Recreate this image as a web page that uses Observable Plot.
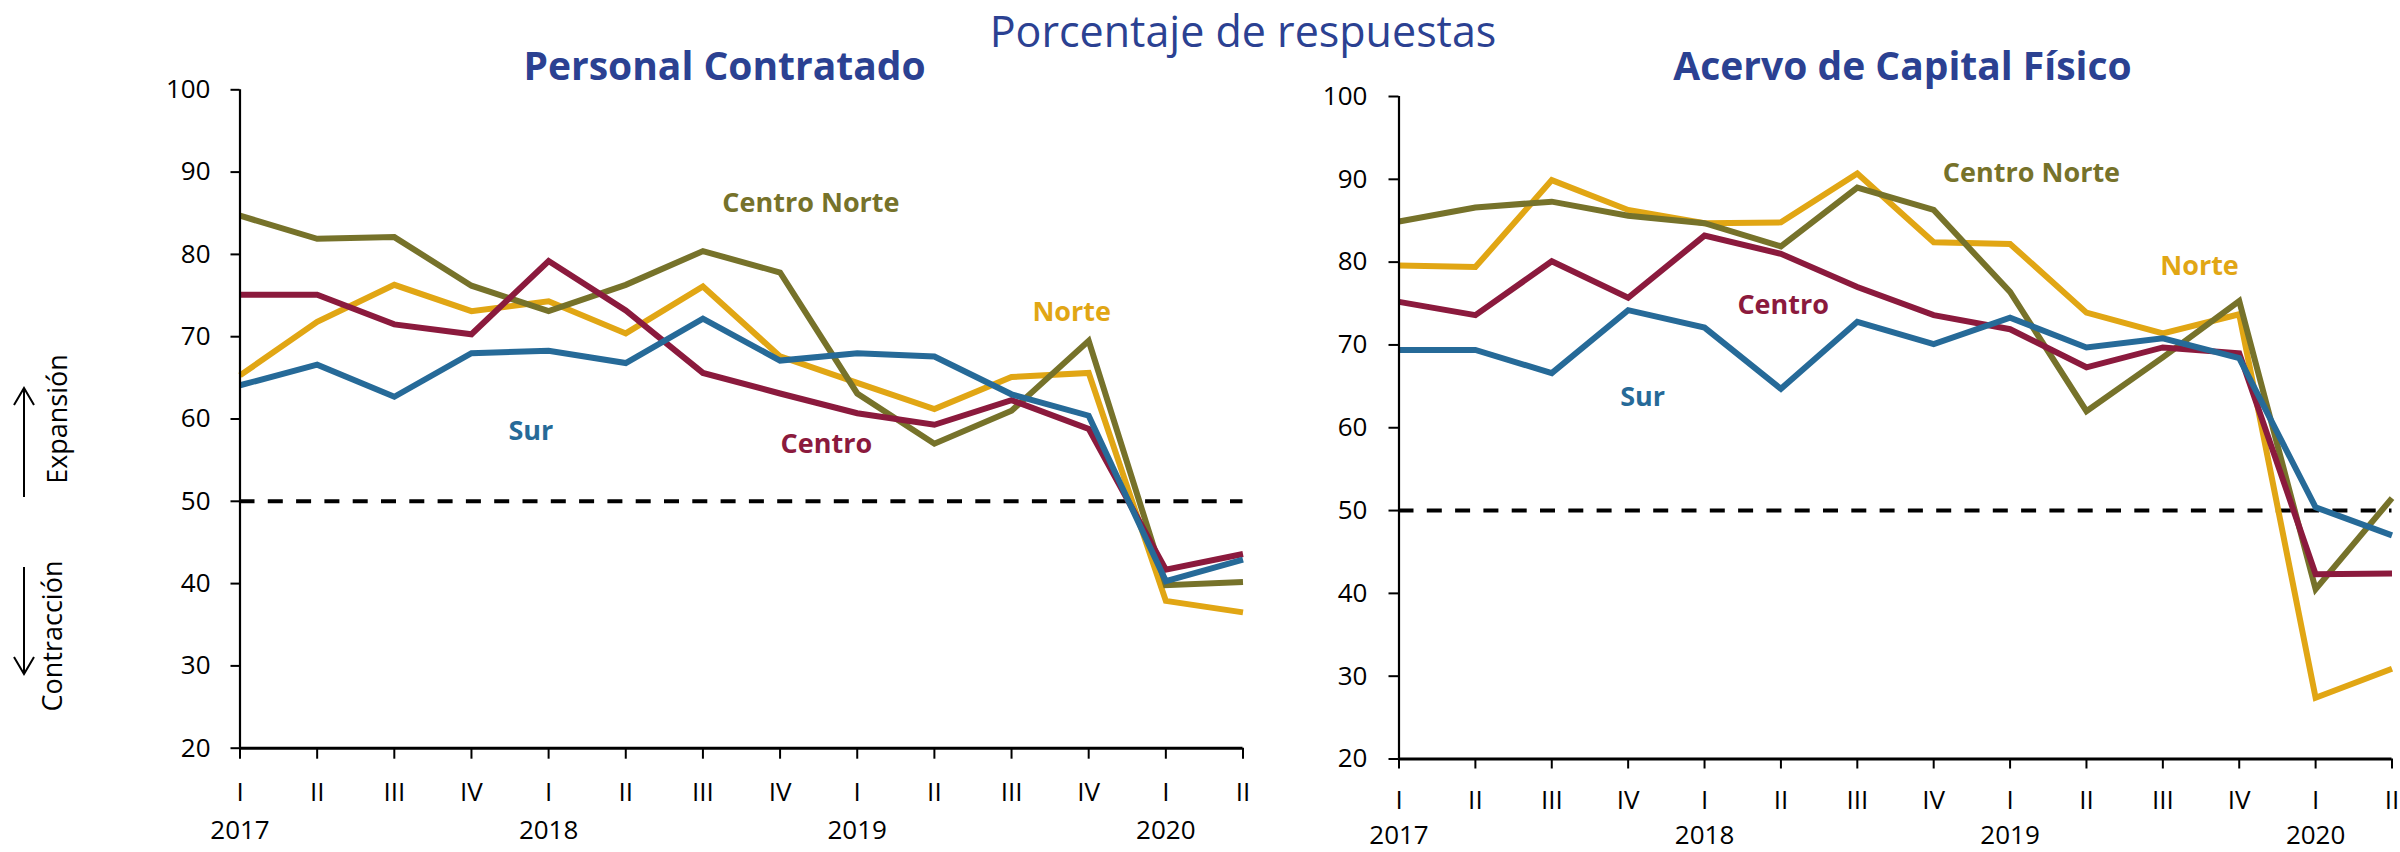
<!DOCTYPE html>
<html>
<head>
<meta charset="utf-8">
<script src="https://cdn.jsdelivr.net/npm/d3@7"></script>
<script src="https://cdn.jsdelivr.net/npm/@observablehq/plot@0.6"></script>
<style>
html, body { margin: 0; padding: 0; background: #fff; }
#root { position: relative; width: 2400px; height: 852px; overflow: hidden; font-family: "Open Sans", sans-serif; }
#root svg { position: absolute; top: 0; }
</style>
</head>
<body>
<div id="root"></div>
<script>
// ---------- data ----------
const quarterLabels = ["I","II","III","IV","I","II","III","IV","I","II","III","IV","I","II"];
const yearLabels = ["2017","2018","2019","2020"];
const yearIndex = [0, 4, 8, 12];
const yTicks = [20, 30, 40, 50, 60, 70, 80, 90, 100];
const regions = ["Norte", "Centro Norte", "Centro", "Sur"];
const regionColors = ["#E1A614", "#76722A", "#8B1A3D", "#266A98"];

// Personal Contratado
const personalNorte       = [65.3, 71.8, 76.3, 73.1, 74.3, 70.4, 76.1, 67.6, 64.4, 61.2, 65.1, 65.6, 37.9, 36.5];
const personalCentroNorte = [84.7, 81.9, 82.1, 76.2, 73.1, 76.3, 80.4, 77.8, 63.1, 57.0, 61.0, 69.5, 39.8, 40.2];
const personalCentro      = [75.1, 75.1, 71.5, 70.3, 79.2, 73.2, 65.6, 63.1, 60.7, 59.3, 62.3, 58.8, 41.7, 43.6];
const personalSur         = [64.1, 66.6, 62.7, 68.0, 68.3, 66.8, 72.2, 67.1, 68.0, 67.6, 63.0, 60.4, 40.3, 42.9];

// Acervo de Capital Físico
const capitalNorte       = [79.6, 79.4, 89.9, 86.3, 84.7, 84.8, 90.7, 82.4, 82.2, 73.9, 71.4, 73.7, 27.4, 30.9];
const capitalCentroNorte = [84.9, 86.6, 87.3, 85.6, 84.7, 81.9, 89.0, 86.3, 76.4, 62.0, 68.5, 75.3, 40.5, 51.5];
const capitalCentro      = [75.2, 73.6, 80.1, 75.7, 83.2, 81.0, 77.0, 73.6, 71.9, 67.3, 69.7, 69.0, 42.3, 42.4];
const capitalSur         = [69.4, 69.4, 66.6, 74.2, 72.1, 64.7, 72.8, 70.1, 73.3, 69.7, 70.8, 68.4, 50.4, 47.0];

// series label anchors (data units: quarter index, percent)
const personalLabels = [
  {region: "Centro Norte", i: 7.40, v: 86.2},
  {region: "Norte", i: 10.78, v: 73.0},
  {region: "Sur", i: 3.77, v: 58.5},
  {region: "Centro", i: 7.60, v: 56.9}
];
const capitalLabels = [
  {region: "Centro Norte", i: 8.28, v: 90.7},
  {region: "Norte", i: 10.48, v: 79.5},
  {region: "Centro", i: 5.03, v: 74.8},
  {region: "Sur", i: 3.19, v: 63.7}
];

function toRows(seriesList) {
  const rows = [];
  regions.forEach((r, k) => seriesList[k].forEach((v, i) => rows.push({region: r, i, v})));
  return rows;
}

function panel(o) {
  const rows = toRows(o.series);
  const svg = Plot.plot({
    width: o.width,
    height: 852,
    marginLeft: o.ml, marginRight: o.mr, marginTop: o.mt, marginBottom: o.mb,
    x: {type: "linear", domain: [0, 13], axis: null, label: null},
    y: {domain: [20, 100], axis: null, label: null},
    color: {domain: regions, range: regionColors},
    style: {fontFamily: "Open Sans", fontSize: "26px", color: "black", background: "transparent"},
    marks: [
      Plot.ruleY([50], {stroke: "black", strokeWidth: 4, strokeDasharray: "15,13.3"}),
      Plot.line(rows, {x: "i", y: "v", z: "region", stroke: "region", strokeWidth: 6,
        strokeLinejoin: "miter", strokeLinecap: "butt", strokeMiterlimit: 10}),
      Plot.axisY({ticks: yTicks, label: null, tickSize: o.tsy, tickPadding: o.tpy, stroke: "black", strokeWidth: 2, tickFormat: d => String(d)}),
      Plot.axisX({ticks: d3.range(quarterLabels.length), label: null, tickSize: o.tsx, tickPadding: o.tpx, stroke: "black", strokeWidth: 2,
        tickFormat: (d) => quarterLabels[d]}),
      Plot.axisX({ticks: yearIndex, label: null, tickSize: 0, tickPadding: o.tpyear, tickFormat: (d) => yearLabels[yearIndex.indexOf(d)]}),
      Plot.ruleX([0], {y1: 20, y2: 100, stroke: "black", strokeWidth: 2.2}),
      Plot.ruleY([20], {stroke: "black", strokeWidth: 3}),
      Plot.text(o.labels, {x: "i", y: "v", text: "region", fill: "region", fontWeight: "bold", fontSize: 27})
    ]
  });
  svg.style.left = o.left + "px";
  return svg;
}

const root = document.getElementById("root");

root.appendChild(panel({
  series: [personalNorte, personalCentroNorte, personalCentro, personalSur],
  labels: personalLabels,
  width: 1250, left: 0,
  ml: 239.5, mr: 7.5, mt: 89.3, mb: 104.3,
  tsy: 9, tpy: 20.5, tsx: 11, tpx: 23.7, tpyear: 72.7
}));

root.appendChild(panel({
  series: [capitalNorte, capitalCentroNorte, capitalCentro, capitalSur],
  labels: capitalLabels,
  width: 1140, left: 1260,
  ml: 138.5, mr: 8.5, mt: 96, mb: 93.5,
  tsy: 10, tpy: 21.6, tsx: 10, tpx: 21.7, tpyear: 66.5
}));

// ---------- titles and side annotations ----------
const titleBlue = "#2B4192";
const ov = d3.create("svg").attr("width", 2400).attr("height", 852)
  .style("left", "0px").style("pointer-events", "none")
  .style("font-family", "'Open Sans', sans-serif");

ov.append("text").attr("x", 1243).attr("y", 46.7).attr("text-anchor", "middle")
  .attr("font-size", 43).attr("fill", titleBlue).text("Porcentaje de respuestas");
ov.append("text").attr("x", 724.5).attr("y", 80).attr("text-anchor", "middle")
  .attr("font-size", 39).attr("font-weight", "bold").attr("fill", titleBlue).text("Personal Contratado");
ov.append("text").attr("x", 1902.5).attr("y", 80).attr("text-anchor", "middle")
  .attr("font-size", 39).attr("font-weight", "bold").attr("fill", titleBlue).text("Acervo de Capital Físico");

ov.append("text").attr("transform", "translate(67,419) rotate(-90)").attr("text-anchor", "middle")
  .attr("font-size", 27).attr("fill", "black").text("Expansión");
ov.append("text").attr("transform", "translate(62,636) rotate(-90)").attr("text-anchor", "middle")
  .attr("font-size", 27).attr("fill", "black").text("Contracción");

const ar = ov.append("g").attr("stroke", "black").attr("stroke-width", 2).attr("fill", "none");
ar.append("line").attr("x1", 24).attr("y1", 497).attr("x2", 24).attr("y2", 388);
ar.append("polyline").attr("points", "14,405 24,388 34,405");
ar.append("line").attr("x1", 24).attr("y1", 567).attr("x2", 24).attr("y2", 674);
ar.append("polyline").attr("points", "14,657 24,674 34,657");

root.appendChild(ov.node());
</script>
</body>
</html>
